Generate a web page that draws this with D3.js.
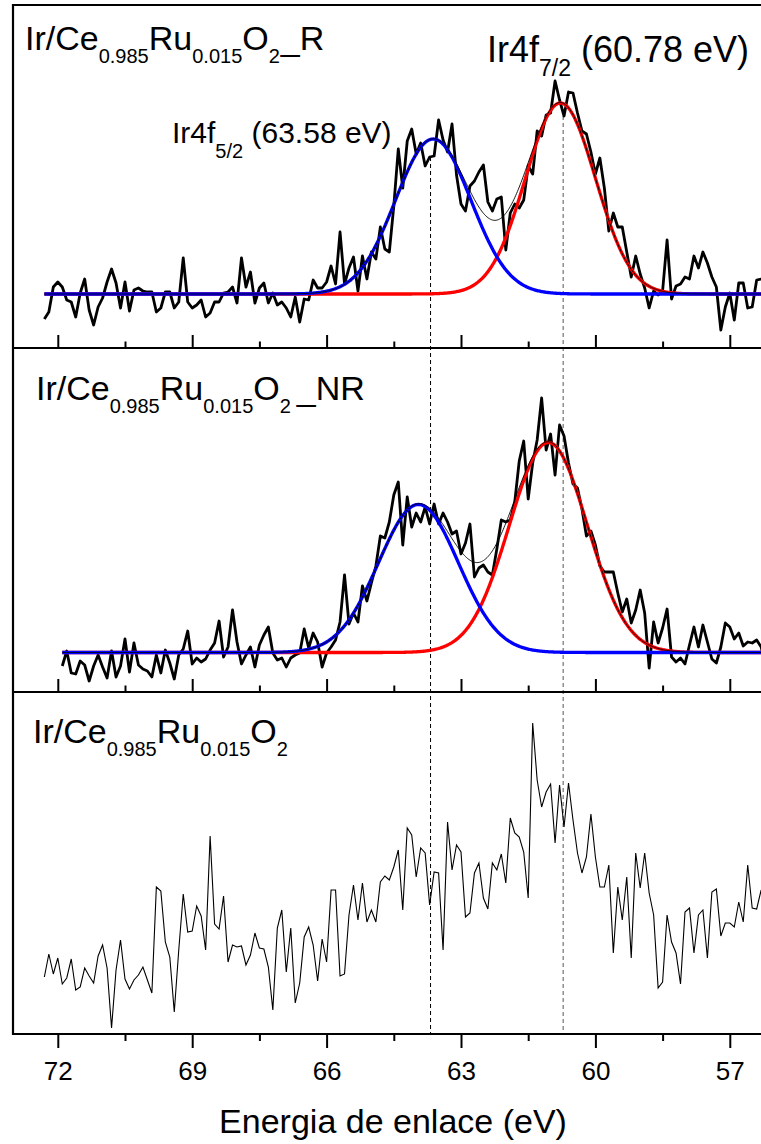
<!DOCTYPE html>
<meta charset="utf-8">
<script src="https://cdn.jsdelivr.net/npm/d3@7"></script>
<style>
    body { margin: 0; background: #fff; }
    svg text { font-family: "Liberation Sans", Arial, sans-serif; fill: #000; }
</style>
<svg width="761" height="1144"></svg>
<script>

    // energy grid of the scans (eV), constant 0.1 eV step
    var eStep = 0.1;
    var eStartR = 72.3, eStartNR = 71.9, eStartFresh = 72.3;

    // Ir4f intensity (a.u.), reduced sample
    var intensityR = [
        29, 36, 61, 66, 61, 48, 46, 31, 55, 69,
        38, 23, 41, 50, 66, 79, 65, 40, 66, 37,
        58, 60, 57, 56, 56, 36, 40, 56, 56, 40,
        46, 90, 46, 40, 43, 48, 31, 35, 46, 46,
        55, 56, 61, 45, 90, 61, 76, 45, 60, 65,
        45, 55, 43, 46, 40, 31, 51, 26, 49, 48,
        68, 60, 60, 66, 82, 64, 116, 64, 80, 91,
        57, 92, 69, 96, 89, 121, 99, 96, 142, 199,
        160, 207, 219, 194, 205, 182, 191, 192, 228, 208,
        196, 224, 173, 144, 137, 162, 167, 176, 183, 146,
        137, 149, 151, 98, 135, 144, 140, 148, 182, 174,
        217, 212, 233, 235, 267, 248, 232, 256, 255, 235,
        217, 214, 196, 174, 190, 160, 117, 135, 121, 121,
        96, 71, 92, 74, 60, 40, 57, 53, 57, 108,
        49, 62, 64, 71, 69, 92, 80, 96, 85, 71,
        61, 18, 41, 55, 28, 65, 65, 40, 41, 68,
        69, 69
    ];

    // non reduced sample
    var intensityNR = [
        26, 41, 19, 18, 31, 27, 11, 26, 37, 25,
        14, 41, 15, 26, 53, 20, 49, 27, 23, 21,
        15, 37, 19, 42, 29, 13, 37, 43, 61, 28,
        34, 30, 33, 42, 49, 71, 35, 45, 82, 50,
        28, 37, 45, 25, 47, 57, 65, 39, 32, 34,
        25, 34, 37, 39, 63, 44, 59, 50, 25, 39,
        45, 52, 70, 117, 68, 79, 70, 106, 91, 109,
        126, 156, 154, 170, 197, 210, 147, 195, 165, 179,
        170, 185, 168, 188, 168, 179, 170, 158, 161, 138,
        149, 168, 115, 124, 127, 120, 117, 143, 172, 170,
        172, 190, 231, 251, 193, 229, 252, 294, 242, 258,
        217, 267, 256, 229, 208, 204, 183, 156, 161, 147,
        126, 120, 120,
        120, 99, 80, 93, 69, 82, 102, 79, 24, 70,
        49, 64, 83, 35, 30, 34, 28, 47, 65, 45,
        67, 50, 33, 29, 45, 69, 65, 53, 59, 46,
        50, 49, 52, 45, 25
    ];

    // as prepared sample
    var intensityFresh = [
        57, 80, 60, 76, 50, 56, 75, 44, 47, 66,
        58, 51, 78, 89, 66, 6, 64, 94, 55, 45,
        54, 59, 67, 54, 41, 147, 143, 92, 77, 22,
        84, 140, 102, 103, 128, 118, 84, 198, 110, 105,
        138, 72, 89, 87, 88, 69, 79, 101, 86, 85,
        67, 24, 106, 124, 62, 106, 31, 51, 97, 107,
        89, 53, 95, 72, 144, 144, 58, 60, 119, 149,
        114, 151, 112, 124, 112, 152, 158, 154, 167, 184,
        124, 206, 199, 157, 186, 181, 129, 162, 161, 84,
        212, 164, 189, 182, 117, 121, 161, 171, 136, 125,
        171, 164, 180, 151, 216, 201, 197, 182, 136, 311,
        254, 227, 242, 250, 191, 249, 207, 251, 214, 181,
        161, 177, 220, 177, 147, 147, 169, 81, 147, 114,
        157, 76, 181, 146, 181, 141, 119, 46, 52, 119,
        92, 81, 50, 122, 126, 81, 119, 124, 76, 142,
        145, 98, 111, 111, 107, 132, 112, 169, 126, 125,
        144, 89
    ];

    // fitted components: [Ir4f5/2, Ir4f7/2]
    var fitBaseR = 54, fitBaseNR = 39.5;
    var peakCentersR = [63.62, 60.78], peakHeightsR = [155, 191], peakFwhmR = [1.98, 1.84];
    var peakCentersNR = [63.95, 61.05], peakHeightsNR = [148, 210], peakFwhmNR = [2.1, 2.05];
    var peakColors = ["#0000ff", "#ff0000"];

    var refLines = [63.68, 60.72];
    var refColors = ["#000", "#555"];

    var majorTicks = [72, 69, 66, 63, 60, 57];
    var minorTicks = [70.5, 67.5, 64.5, 61.5, 58.5];
    var xTitle = "Energia de enlace (eV)";

    var svg = d3.select("svg");
    var left = 13, frameTop = 5;
    var panelBottoms = [348, 692, 1034];

    var x = d3.scaleLinear().domain([73, 56]).range([left, left + 17 * 44.8]);

    function yFor(k) {
        return d3.scaleLinear().domain([0, 343]).range([panelBottoms[k], panelBottoms[k] - 343]);
    }
    var y1 = yFor(0), y2 = yFor(1), y3 = yFor(2);

    function toPoints(vals, e0) {
        return vals.map(function (v, i) {
            return {e: e0 - i * eStep, v: v};
        });
    }

    function gauss(e, c, h, w) {
        return h * Math.exp(-4 * Math.LN2 * (e - c) * (e - c) / (w * w));
    }

    var lineOf = function (ys) {
        return d3.line().x(function (d) { return x(d.e); }).y(function (d) { return ys(d.v); });
    };

    function drawFit(y, e0, base, centers, heights, fwhm) {
        var grid = d3.range(e0, 55.9, -0.02);
        var comps = centers.map(function (c, k) {
            return grid.map(function (e) {
                return {e: e, v: base + gauss(e, c, heights[k], fwhm[k])};
            });
        });
        var env = grid.map(function (e, j) {
            return {e: e, v: comps[0][j].v + comps[1][j].v - base};
        });
        // red under blue
        [1, 0].forEach(function (k) {
            svg.append("path").datum(comps[k])
                .attr("d", lineOf(y))
                .attr("fill", "none")
                .attr("stroke", peakColors[k])
                .attr("stroke-width", 3.3);
        });
        svg.append("path").datum(env)
            .attr("d", lineOf(y))
            .attr("fill", "none")
            .attr("stroke", "#000")
            .attr("stroke-width", 0.9);
    }

    var ptsR = toPoints(intensityR, eStartR);
    var ptsNR = toPoints(intensityNR, eStartNR);
    var ptsFresh = toPoints(intensityFresh, eStartFresh);

    // dashed reference lines, from the R trace down to the energy axis
    refLines.forEach(function (e, k) {
        var near = ptsR.reduce(function (a, b) {
            return Math.abs(b.e - e) < Math.abs(a.e - e) ? b : a;
        });
        svg.append("line")
            .attr("x1", x(e)).attr("x2", x(e))
            .attr("y1", y1(near.v)).attr("y2", panelBottoms[2])
            .attr("stroke", refColors[k])
            .attr("stroke-width", 1)
            .attr("stroke-dasharray", "4,3");
    });

    // spectra
    svg.append("path").datum(ptsR)
        .attr("d", lineOf(y1))
        .attr("fill", "none").attr("stroke", "#000").attr("stroke-width", 2.8)
        .attr("stroke-linejoin", "round");
    drawFit(y1, eStartR, fitBaseR, peakCentersR, peakHeightsR, peakFwhmR);

    svg.append("path").datum(ptsNR)
        .attr("d", lineOf(y2))
        .attr("fill", "none").attr("stroke", "#000").attr("stroke-width", 2.8)
        .attr("stroke-linejoin", "round");
    drawFit(y2, eStartNR, fitBaseNR, peakCentersNR, peakHeightsNR, peakFwhmNR);

    svg.append("path").datum(ptsFresh)
        .attr("d", lineOf(y3))
        .attr("fill", "none").attr("stroke", "#000").attr("stroke-width", 1.1);

    // ticks: inward on the upper panels, outward on the bottom one
    [0, 1].forEach(function (k) {
        svg.append("g").attr("transform", "translate(0," + panelBottoms[k] + ")")
            .call(d3.axisBottom(x).tickValues(majorTicks).tickSize(-13).tickFormat(""))
            .call(function (g) { g.select(".domain").remove(); })
            .selectAll("line").attr("stroke-width", 2);
        svg.append("g").attr("transform", "translate(0," + panelBottoms[k] + ")")
            .call(d3.axisBottom(x).tickValues(minorTicks).tickSize(-6.5).tickFormat(""))
            .call(function (g) { g.select(".domain").remove(); })
            .selectAll("line").attr("stroke-width", 2);
    });

    var bottomAxis = svg.append("g").attr("transform", "translate(0," + panelBottoms[2] + ")")
        .call(d3.axisBottom(x).tickValues(majorTicks).tickSize(14).tickPadding(14)
            .tickFormat(d3.format("d")));
    bottomAxis.select(".domain").remove();
    bottomAxis.selectAll("line").attr("stroke-width", 2);
    bottomAxis.selectAll("text").attr("font-size", 26)
        .attr("font-family", "Liberation Sans, Arial, sans-serif");
    svg.append("g").attr("transform", "translate(0," + panelBottoms[2] + ")")
        .call(d3.axisBottom(x).tickValues(minorTicks).tickSize(7).tickFormat(""))
        .call(function (g) { g.select(".domain").remove(); })
        .selectAll("line").attr("stroke-width", 2);

    // frame
    var frame = svg.append("g").attr("stroke", "#000").attr("stroke-width", 2.2);
    frame.append("line").attr("x1", left).attr("x2", left).attr("y1", frameTop - 1).attr("y2", panelBottoms[2] + 1);
    frame.append("line").attr("x1", left).attr("x2", 761).attr("y1", frameTop).attr("y2", frameTop);
    panelBottoms.forEach(function (b) {
        frame.append("line").attr("x1", left).attr("x2", 761).attr("y1", b).attr("y2", b);
    });

    svg.append("text")
        .attr("x", 393).attr("y", 1133)
        .attr("text-anchor", "middle")
        .attr("font-size", 34)
        .text(xTitle);

    // sample labels with subscripts
    function formula(px, py, parts, size, subSize, drop) {
        var t = svg.append("text").attr("x", px).attr("y", py).attr("font-size", size);
        var shift = 0;
        parts.forEach(function (p) {
            var sub = p[1] === 1;
            var target = sub ? drop : 0;
            var s = t.append("tspan").text(p[0])
                .attr("dy", target - shift)
                .attr("font-size", sub ? subSize : size);
            if (p[2]) s.attr("dx", p[2]);
            shift = target;
        });
    }

    formula(25, 50, [["Ir/Ce", 0], ["0.985", 1], ["Ru", 0], ["0.015", 1], ["O", 0], ["2", 1], ["_R", 0, 1]], 34, 20, 13);
    formula(36, 400, [["Ir/Ce", 0], ["0.985", 1], ["Ru", 0], ["0.015", 1], ["O", 0], ["2", 1], ["_NR", 0, 6]], 34, 20, 13);
    formula(33, 743, [["Ir/Ce", 0], ["0.985", 1], ["Ru", 0], ["0.015", 1], ["O", 0], ["2", 1]], 34, 20, 13);

    formula(172, 143, [["Ir4f", 0], ["5/2", 1], [" (63.58 eV)", 0]], 30, 20, 15);
    formula(487, 62, [["Ir4f", 0], ["7/2", 1], [" (60.78 eV)", 0]], 36, 23, 14);

</script>
